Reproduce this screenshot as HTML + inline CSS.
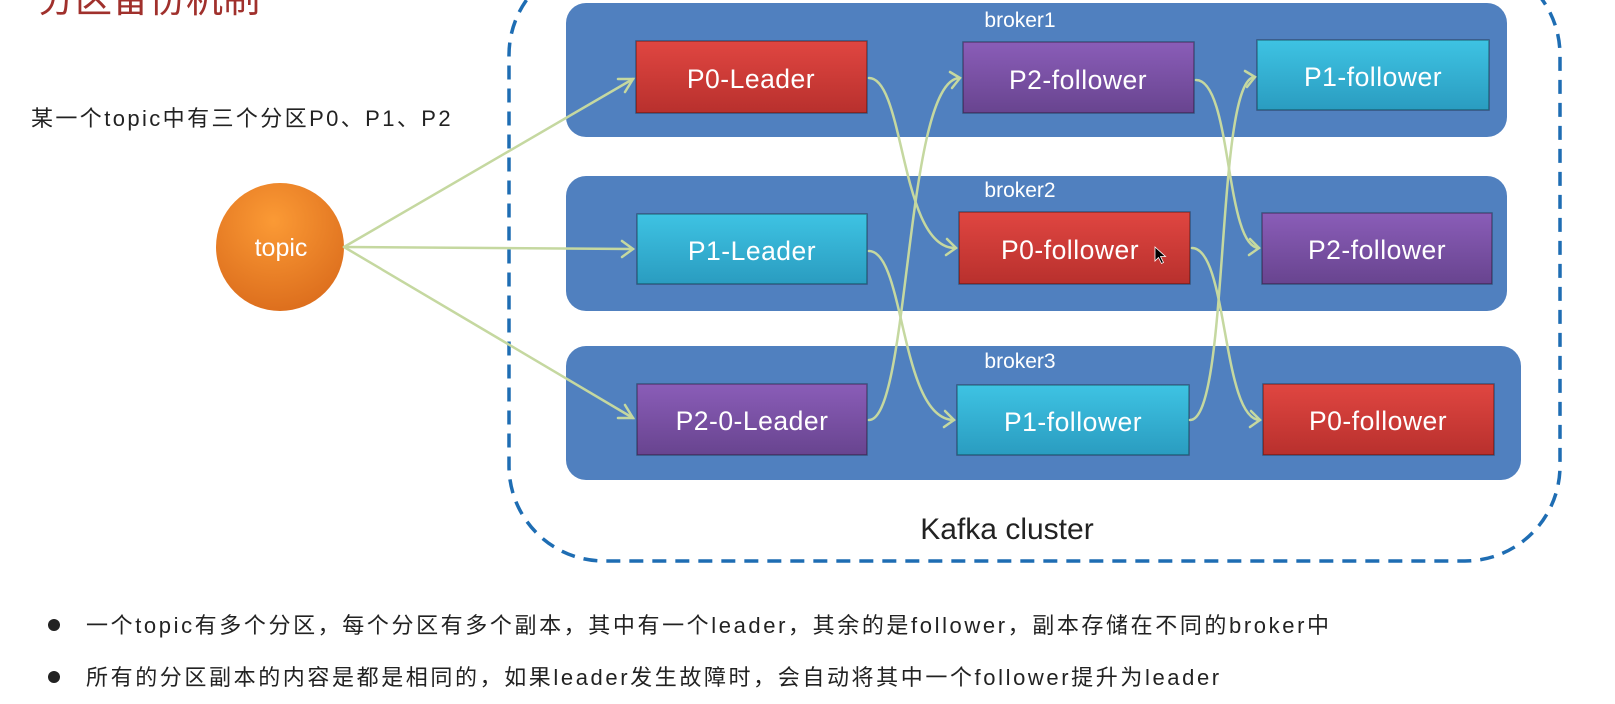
<!DOCTYPE html>
<html><head><meta charset="utf-8"><style>
html,body{margin:0;padding:0;background:#fff;width:1615px;height:704px;overflow:hidden}
svg{display:block}
.t{font-family:"Liberation Sans","Noto Sans CJK SC",sans-serif}
</style></head><body>
<svg width="1615" height="704" viewBox="0 0 1615 704" xmlns="http://www.w3.org/2000/svg">
<defs>
<linearGradient id="gr" x1="0" y1="0" x2="0" y2="1"><stop offset="0" stop-color="#e04641"/><stop offset="1" stop-color="#b8302d"/></linearGradient>
<linearGradient id="gp" x1="0" y1="0" x2="0" y2="1"><stop offset="0" stop-color="#8a5db8"/><stop offset="1" stop-color="#68448f"/></linearGradient>
<linearGradient id="gc" x1="0" y1="0" x2="0" y2="1"><stop offset="0" stop-color="#3ec3e3"/><stop offset="1" stop-color="#2a9cc0"/></linearGradient>
<radialGradient id="go" cx="0.45" cy="0.3" r="0.75"><stop offset="0" stop-color="#fb9a35"/><stop offset="1" stop-color="#db6c1c"/></radialGradient>
</defs>
<text class="t" x="38" y="12" font-size="37" fill="#a0302c">分区备份机制</text>
<text class="t" x="31" y="126" font-size="22" letter-spacing="2.4" fill="#222">某一个topic中有三个分区P0、P1、P2</text>

<rect x="509" y="-40" width="1051" height="601" rx="95" fill="none" stroke="#1e6db3" stroke-width="3.5" stroke-dasharray="14 9"/>

<rect x="566" y="3" width="941" height="134" rx="20" fill="#5080bf"/>
<rect x="566" y="176" width="941" height="135" rx="20" fill="#5080bf"/>
<rect x="566" y="346" width="955" height="134" rx="20" fill="#5080bf"/>
<g class="t" font-size="21" fill="#fff">
<text x="1020" y="27" text-anchor="middle">broker1</text>
<text x="1020" y="197" text-anchor="middle">broker2</text>
<text x="1020" y="368" text-anchor="middle">broker3</text>
</g>

<g stroke="rgba(0,0,0,0.35)" stroke-width="1.5">
<rect x="636" y="41" width="231" height="72" fill="url(#gr)"/>
<rect x="963" y="42" width="231" height="71" fill="url(#gp)"/>
<rect x="1257" y="40" width="232" height="70" fill="url(#gc)"/>
<rect x="637" y="214" width="230" height="70" fill="url(#gc)"/>
<rect x="959" y="212" width="231" height="72" fill="url(#gr)"/>
<rect x="1262" y="213" width="230" height="71" fill="url(#gp)"/>
<rect x="637" y="384" width="230" height="71" fill="url(#gp)"/>
<rect x="957" y="385" width="232" height="70" fill="url(#gc)"/>
<rect x="1263" y="384" width="231" height="71" fill="url(#gr)"/>
</g>
<g class="t" font-size="26.5" fill="#fff" text-anchor="middle" letter-spacing="0.5">
<text x="751" y="88">P0-Leader</text>
<text x="1078" y="89">P2-follower</text>
<text x="1373" y="86">P1-follower</text>
<text x="752" y="260">P1-Leader</text>
<text x="1070" y="259">P0-follower</text>
<text x="1377" y="259">P2-follower</text>
<text x="752" y="430">P2-0-Leader</text>
<text x="1073" y="431">P1-follower</text>
<text x="1378" y="430">P0-follower</text>
</g>

<circle cx="280" cy="247" r="64" fill="url(#go)"/>
<text class="t" x="281" y="256" font-size="25" fill="#fff" text-anchor="middle">topic</text>

<g fill="none" stroke="#c5d8a0" stroke-width="2.5" stroke-linecap="round">
<path d="M344 247 L633 79"/><path d="M618 79 L633 79 L625 92"/>
<path d="M344 247 L633 249"/><path d="M622 241 L633 249 L622 257"/>
<path d="M344 247 L633 418"/><path d="M625 405 L633 418 L618 418"/>
<path d="M869 78 C905 78 900 250 956 248"/><path d="M947 239 L956 248 L946 255"/>
<path d="M869 251 C905 251 900 420 954 420"/><path d="M945 411 L954 420 L944 427"/>
<path d="M869 420 C910 420 905 78 960 78"/><path d="M950 72 L960 78 L952 88"/>
<path d="M1196 80 C1232 80 1225 248 1259 248"/><path d="M1250 239 L1259 248 L1249 255"/>
<path d="M1192 248 C1228 248 1222 420 1260 420"/><path d="M1251 411 L1260 420 L1250 427"/>
<path d="M1190 420 C1230 420 1215 77 1255 77"/><path d="M1245 71 L1255 77 L1247 87"/>
</g>
<path d="M1155 247 l0 14 l3.5 -3.5 l3 6 l2 -1 l-3 -6 l5 0 z" fill="#000" stroke="#fff" stroke-width="0.8"/>

<text class="t" x="1007" y="539" font-size="30" fill="#222" text-anchor="middle">Kafka cluster</text>

<circle cx="54" cy="625" r="6" fill="#222"/>
<circle cx="54" cy="677" r="6" fill="#222"/>
<g class="t" font-size="22" letter-spacing="2.6" fill="#222">
<text x="86" y="633">一个topic有多个分区，每个分区有多个副本，其中有一个leader，其余的是follower，副本存储在不同的broker中</text>
<text x="86" y="685">所有的分区副本的内容是都是相同的，如果leader发生故障时，会自动将其中一个follower提升为leader</text>
</g>
</svg>
</body></html>
